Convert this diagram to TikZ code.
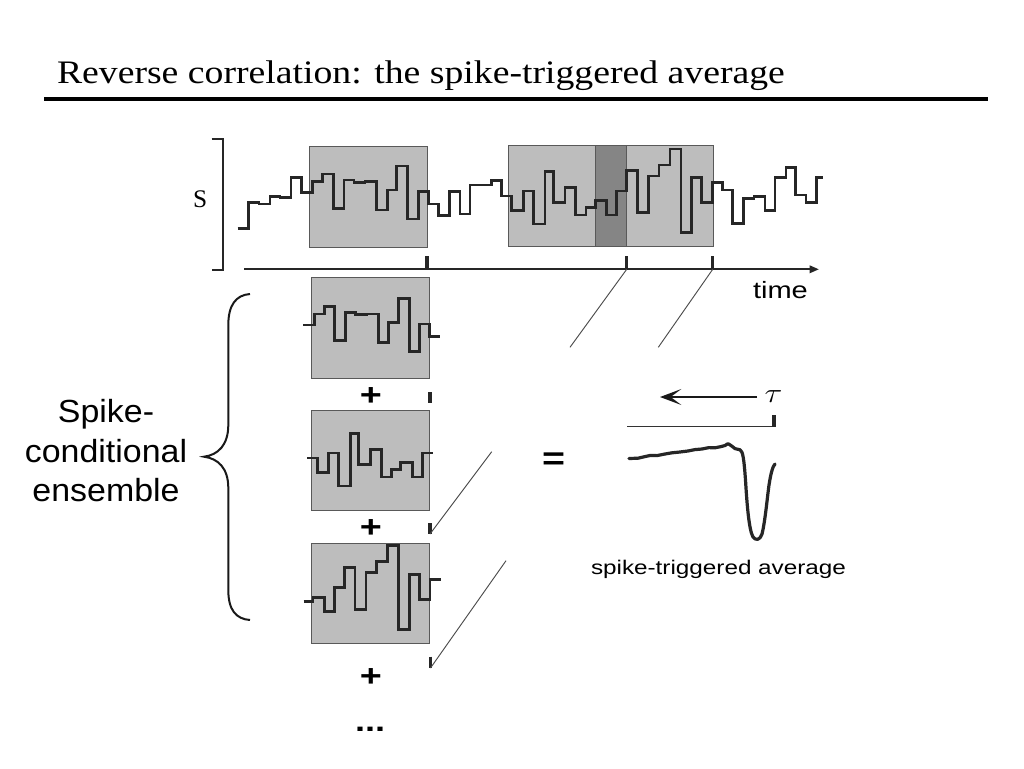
\documentclass[tikz,border=0pt]{standalone}
\usepackage{fontspec}
\setmainfont{Liberation Serif}
\newfontfamily\titlefont[FakeStretch=1.15]{Liberation Serif}
\newfontfamily\sidefont[FakeStretch=1.06]{Liberation Sans}
\newfontfamily\figsans[FakeStretch=1.23]{Liberation Sans}
\usetikzlibrary{arrows.meta}
\definecolor{boxgray}{gray}{0.74}
\definecolor{darkgray2}{gray}{0.52}
\definecolor{edgegray}{gray}{0.35}
\begin{document}
\begin{tikzpicture}[x=0.75pt,y=-0.75pt,
  trace/.style={line width=2.2pt,black!85},
  boxfill/.style={fill=boxgray},
  boxedge/.style={draw=edgegray,line width=0.6pt},
  tickmark/.style={line width=2.6pt,black!85},
  diag/.style={line width=0.7pt,black!70},
  txt/.style={inner sep=0pt,outer sep=0pt},
  plussign/.style={txt,anchor=base,font=\figsans\bfseries\fontsize{23pt}{26pt}\selectfont},
  sidetext/.style={txt,anchor=base,font=\sidefont\fontsize{24pt}{28pt}\selectfont},
  ]
\useasboundingbox[fill=white] (0,0) rectangle (1024,768);

% title
\node[txt,anchor=base west] (title) at (57,83.3)
  {\titlefont\fontsize{24.6pt}{30pt}\selectfont Reverse correlation: the spike-triggered average};
\draw[line width=3pt] (44,98.7) coordinate (rl) -- (988,98.7) coordinate (rr);

% bracket and s label
\draw[line width=1.5pt,black!85] (211.5,139) -- (222.5,139) -- (222.5,269.5) -- (211.5,269.5);
\node[txt,anchor=base west] (slab) at (193,207) {\fontsize{19pt}{22pt}\selectfont S};

% stimulus windows (top)
\fill[boxfill] (309,146) rectangle (427,247);
\draw[boxedge] (309,146) rectangle (427,247);
\fill[boxfill] (508,145) rectangle (713,246.5);
\fill[darkgray2] (595.3,145) rectangle (626,246.5);
\draw[boxedge] (508,145) rectangle (713,246.5);
\draw[boxedge] (595.3,145) -- (595.3,246.5) (626,145) -- (626,246.5);

% stimulus trace
\draw[trace] (237.7,228.3) -| (248.3,202.7) -| (259,204) -| (270,196.7) -| (280,197.7) -| (291,177.7) -| (301.7,192.7) -| (312.7,181.7) -| (322.7,174) -| (333.3,208.3) -| (344,180) -| (354,182.3) -| (365,181.7) -| (376.7,210) -| (387.3,190) -| (396.7,166) -| (407.7,219) -| (418.3,191.7) -| (428.3,204) -| (438.3,215.7) -| (449.3,191.7) -| (460,214) -| (470,185) -| (491.7,180.7) -| (501.7,196) -| (511.7,210.7) -| (523.3,191) -| (533.3,224) -| (545,171.7) -| (553.3,202.7) -| (565,187.3) -| (575.7,215) -| (586,207.3) -| (595.3,200.7) -| (606.7,215) -| (616.7,191) -| (626.7,170.7) -| (637.3,212.7) -| (648.3,176) -| (659,165) -| (670,149) -| (681,232.7) -| (691.7,177.7) -| (701.7,202.7) -| (712.3,182.7) -| (722.3,190) -| (732.7,223.3) -| (743.3,198.3) -| (754,196.7) -| (765,210.7) -| (775,177.3) -| (786,167.3) -| (795.7,195) -| (806,202.7) -| (816.7,177.7) -- (823,177.7);

% time axis
\coordinate (ax0) at (244,269.3);
\coordinate (ax1) at (819,269.3);
\draw[line width=1.6pt,black!85,-{Triangle[length=7pt,width=5.5pt]}] (ax0) -- (ax1);
\coordinate (sp0) at (427,269.3);
\coordinate (sp1) at (626.7,269.3);
\coordinate (sp2) at (712.7,269.3);
\draw[tickmark] (427,256) -- (sp0);
\draw[tickmark] (626.7,256) -- (sp1);
\draw[tickmark] (712.7,256) -- (sp2);
\node[txt,anchor=base west] (time) at (753,298.3) {\figsans\fontsize{17.7pt}{20pt}\selectfont time};

% ensemble box A
\fill[boxfill] (311.3,277.5) rectangle (429.8,378.5);
\draw[boxedge] (311.3,277.5) rectangle (429.8,378.5);
\begin{scope}[shift={(1.5,132.3)}]
\draw[trace] (301.7,192.7) -| (312.7,181.7) -| (322.7,174) -| (333.3,208.3) -| (344,180) -| (354,182.3) -| (365,181.7) -| (376.7,210) -| (387.3,190) -| (396.7,166) -| (407.7,219) -| (418.3,191.7) -| (428.3,204) -- (438.3,204);
\end{scope}
\node[plussign] (plusA) at (371,405.5) {+};
\coordinate (tA) at (430,403);
\draw[tickmark] (430,392) -- (tA);

% ensemble box B
\fill[boxfill] (311.3,410) rectangle (429.8,510.7);
\draw[boxedge] (311.3,410) rectangle (429.8,510.7);
\begin{scope}[shift={(-194.5,262)}]
\draw[trace] (501.7,196) -| (511.7,210.7) -| (523.3,191) -| (533.3,224) -| (545,171.7) -| (553.3,202.7) -| (565,187.3) -| (575.7,215) -| (586,207.3) -| (595.3,200.7) -| (606.7,215) -| (616.7,191) -- (627.7,191);
\end{scope}
\node[plussign] (plusB) at (371,537) {+};
\coordinate (tB) at (430,534);
\draw[tickmark] (430,523) -- (tB);

% ensemble box C
\fill[boxfill] (311.3,543.3) rectangle (429.8,643.3);
\draw[boxedge] (311.3,543.3) rectangle (429.8,643.3);
\begin{scope}[shift={(-282.3,396.6)}]
\draw[trace] (586,205) -| (595.3,200.7) -| (606.7,215) -| (616.7,191) -| (626.7,170.7) -| (637.3,212.7) -| (648.3,176) -| (659,165) -| (670,149) -| (681,232.7) -| (691.7,177.7) -| (701.7,202.7) -| (712.3,182.7) -- (723.3,182.7);
\end{scope}
\node[plussign] (plusC) at (371,686) {+};
\coordinate (tC) at (430.5,668);
\draw[tickmark] (430.5,656.7) -- (tC);
\node[txt,anchor=base west] (dots) at (355,731.7) {\figsans\bfseries\fontsize{22pt}{24pt}\selectfont ...};

% diagonal guide lines
\coordinate (d1a) at (570,347.3);
\coordinate (d2a) at (658.3,347.3);
\coordinate (d1b) at (491.7,451.7);
\coordinate (d2b) at (506,560.7);
\draw[diag] (sp1) -- (d1a);
\draw[diag] (sp2) -- (d2a);
\draw[diag] (d1b) -- (tB);
\draw[diag] (d2b) -- (tC);

% brace and label
\draw[line width=1.5pt,black!90] (250,294) .. controls (236,295) and (228.3,305) .. (228.3,325) -- (228.3,425) .. controls (228.3,445) and (218,455) .. (204,456.7) .. controls (218,458.5) and (228.3,468) .. (228.3,488) -- (228.3,590) .. controls (228.3,610) and (236,619) .. (250,620);
\node[sidetext] (side1) at (106,422) {Spike-};
\node[sidetext] (side2) at (106,462) {conditional};
\node[sidetext] (side3) at (106,501) {ensemble};

% equals sign
\node[txt,anchor=base] (eq) at (553.7,469.4) {\figsans\bfseries\fontsize{24pt}{26pt}\selectfont =};

% tau arrow and reference line
\coordinate (ta0) at (757,397);
\coordinate (ta1) at (660,397);
\draw[line width=1.4pt,black!90,-{Stealth[length=16pt,width=12pt,inset=8pt]}] (ta0) -- (ta1);
\node[txt] (tau) at (773.5,396.5) {\fontsize{22pt}{24pt}\selectfont\scalebox{1.2}[1]{$\tau$}};
\coordinate (rl0) at (627,426.5);
\coordinate (rl1) at (774,426.5);
\draw[line width=0.8pt,black!80] (rl0) -- (rl1);
\draw[tickmark,line width=2.4pt] (774,415) -- (rl1);

% spike-triggered average curve
\draw[line width=2.4pt,black!85,line join=round,line cap=round]
 (629,458.5) -- (638,458.2) -- (644,456.8) -- (650,455.5) -- (657,455.6) -- (665,454) -- (672,452.8) -- (680,452) -- (688,451) -- (695,449.6) -- (702,449) -- (709,447.6) -- (715,447.8) -- (721,446.6) -- (725,445.5) -- (728,443.6) -- (731,445.5) -- (735,448.6) -- (740,449.8)
 .. controls (743,451) and (744,460) .. (745.5,480)
 .. controls (747,505) and (749,530) .. (753,537)
 .. controls (756,541) and (760,540) .. (762,534)
 .. controls (765,522) and (767,500) .. (769,485)
 .. controls (771,472) and (773,466) .. (775,464);
\node[txt,anchor=base west] (sta) at (591,574) {\figsans\fontsize{14.8pt}{17pt}\selectfont spike-triggered average};
\end{tikzpicture}
\end{document}
